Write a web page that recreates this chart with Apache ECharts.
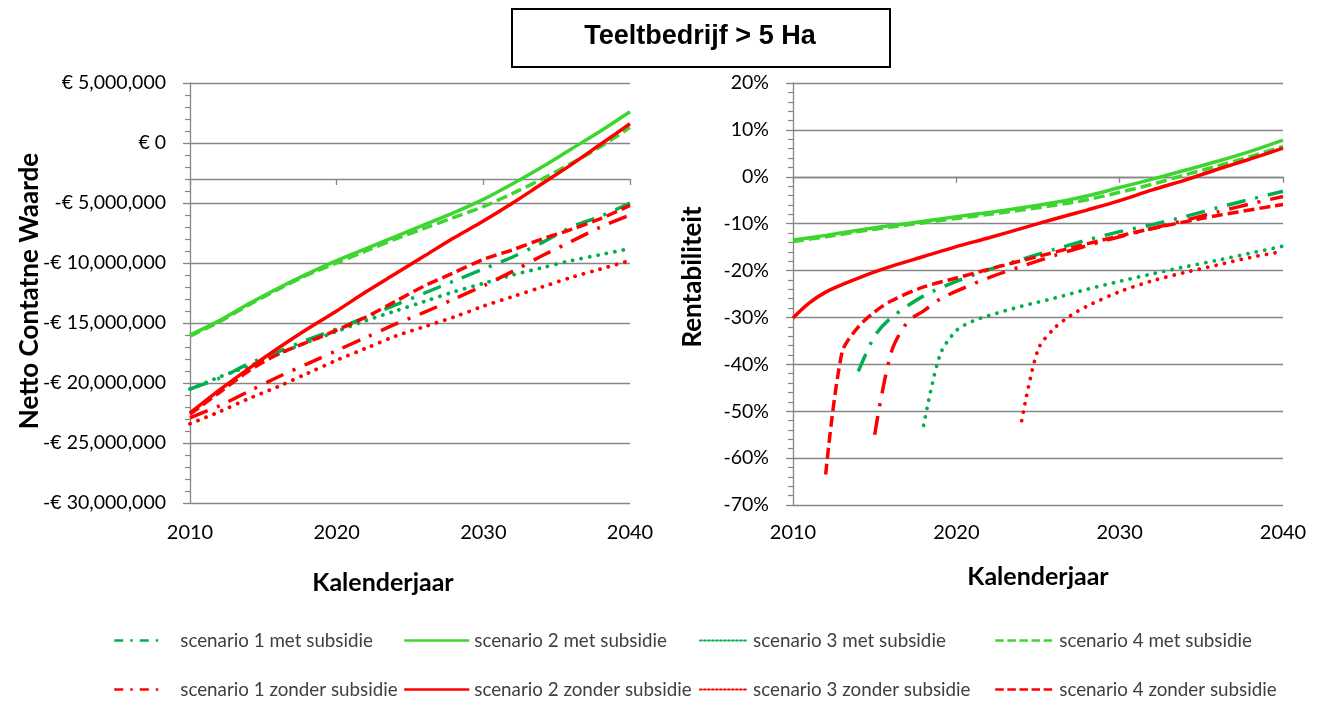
<!DOCTYPE html>
<html>
<head>
<meta charset="utf-8">
<title>Teeltbedrijf &gt; 5 Ha</title>
<script src="https://cdn.jsdelivr.net/npm/echarts@6/dist/echarts.min.js"></script>
<style>
  html, body { margin: 0; padding: 0; background: #ffffff; }
  #chart { width: 1320px; height: 701px; }
</style>
</head>
<body>
<div id="chart"></div>
<script>
// ---- Netto Contante Waarde (miljoen euro), every two years ----
const leftYears = [2010, 2012, 2014, 2016, 2018, 2020, 2022, 2024, 2026, 2028, 2030, 2032, 2034, 2036, 2038, 2040];
const ncwS1Met    = [-20.5, -19.6, -18.4, -17.4, -16.4, -15.5, -14.5, -13.5, -12.5, -11.5, -10.5, -9.5, -8.3, -7.0, -6.1, -5.0];
const ncwS2Met    = [-16.0, -14.8, -13.4, -12.1, -10.9, -9.8, -8.8, -7.8, -6.8, -5.8, -4.7, -3.4, -2.0, -0.5, 1.0, 2.6];
const ncwS3Met    = [-20.5, -19.5, -18.6, -17.6, -16.6, -15.7, -14.8, -14.0, -13.2, -12.4, -11.7, -11.0, -10.4, -9.8, -9.3, -8.8];
const ncwS4Met    = [-16.1, -14.9, -13.5, -12.2, -11.0, -10.0, -9.0, -8.0, -7.1, -6.2, -5.3, -4.2, -3.0, -1.7, -0.3, 1.3];
const ncwS1Zonder = [-22.9, -21.9, -20.7, -19.5, -18.4, -17.3, -16.2, -15.1, -14.1, -13.0, -11.9, -10.7, -9.4, -8.2, -7.0, -6.0];
const ncwS2Zonder = [-22.5, -20.6, -18.8, -17.1, -15.5, -14.0, -12.4, -10.9, -9.4, -7.9, -6.5, -5.0, -3.4, -1.8, -0.1, 1.6];
const ncwS3Zonder = [-23.4, -22.4, -21.3, -20.3, -19.2, -18.1, -17.1, -16.1, -15.3, -14.5, -13.6, -12.8, -12.0, -11.2, -10.5, -9.8];
const ncwS4Zonder = [-22.6, -20.8, -19.0, -17.6, -16.6, -15.6, -14.5, -13.2, -11.9, -10.8, -9.7, -8.9, -8.0, -7.2, -6.3, -5.2];
const MILLION = 1e6;

// ---- Rentabiliteit (%), each scenario from its first year ----
const renS1MetYears    = [2014, 2015, 2016, 2018, 2020, 2022, 2024, 2026, 2028, 2030, 2032, 2034, 2036, 2038, 2040];
const renS1Met         = [-41.5, -34.0, -30.1, -25.4, -22.3, -19.8, -17.6, -15.5, -13.5, -11.7, -10.2, -8.5, -6.6, -4.8, -3.1];
const renS2MetYears    = [2010, 2012, 2014, 2016, 2018, 2020, 2022, 2024, 2026, 2028, 2030, 2032, 2034, 2036, 2038, 2040];
const renS2Met         = [-13.5, -12.5, -11.4, -10.4, -9.5, -8.5, -7.6, -6.6, -5.5, -4.1, -2.3, -0.5, 1.4, 3.3, 5.4, 7.8];
const renS3MetYears    = [2018, 2019, 2020, 2021, 2022, 2024, 2026, 2028, 2030, 2032, 2034, 2036, 2038, 2040];
const renS3Met         = [-53.0, -38.0, -32.8, -30.8, -29.6, -27.6, -25.9, -24.0, -22.3, -20.7, -19.2, -17.8, -16.3, -14.8];
const renS4MetYears    = [2010, 2012, 2014, 2016, 2018, 2020, 2022, 2024, 2026, 2028, 2030, 2032, 2034, 2036, 2038, 2040];
const renS4Met         = [-13.8, -12.8, -11.7, -10.7, -9.8, -8.9, -8.0, -7.1, -6.1, -4.9, -3.3, -1.6, 0.4, 2.3, 4.3, 6.5];
const renS1ZonderYears = [2015, 2016, 2017, 2018, 2019, 2020, 2022, 2024, 2026, 2028, 2030, 2032, 2034, 2036, 2038, 2040];
const renS1Zonder      = [-55.0, -37.6, -31.0, -28.6, -26.1, -24.4, -21.5, -19.1, -16.8, -14.7, -12.8, -11.0, -9.3, -7.5, -5.8, -4.2];
const renS2ZonderYears = [2010, 2011, 2012, 2013, 2014, 2015, 2016, 2018, 2020, 2022, 2024, 2026, 2028, 2030, 2032, 2034, 2036, 2038, 2040];
const renS2Zonder      = [-30.1, -26.9, -24.6, -23.0, -21.6, -20.3, -19.1, -17.0, -14.9, -13.0, -11.0, -9.0, -7.1, -5.1, -2.8, -0.7, 1.6, 3.8, 6.1];
const renS3ZonderYears = [2024, 2025, 2026, 2027, 2028, 2030, 2032, 2034, 2036, 2038, 2040];
const renS3Zonder      = [-52.0, -36.9, -32.3, -29.6, -27.6, -24.5, -22.2, -20.4, -18.8, -17.2, -15.9];
const renS4ZonderYears = [2012, 2013, 2014, 2015, 2016, 2018, 2020, 2022, 2025, 2030, 2035, 2040];
const renS4Zonder      = [-63.5, -37.5, -32.0, -28.8, -26.5, -23.5, -21.6, -19.7, -17.0, -12.6, -8.9, -5.9];

const NAMES = {
  s1m: 'scenario 1 met subsidie',   s2m: 'scenario 2 met subsidie',
  s3m: 'scenario 3 met subsidie',   s4m: 'scenario 4 met subsidie',
  s1z: 'scenario 1 zonder subsidie', s2z: 'scenario 2 zonder subsidie',
  s3z: 'scenario 3 zonder subsidie', s4z: 'scenario 4 zonder subsidie'
};

const LIGHT_GREEN = '#3dd62f';
const DARK_GREEN = '#00b050';
const RED = '#ff0000';
const AXIS_GREY = '#868686';
const TEXT_FONT = 'Lato, "Open Sans", sans-serif';

const STYLES = {
  solid:   { type: 'solid' },
  dashed:  { type: [11, 5] },
  dashdot: { type: [19, 10, 3, 10] },
  dotted:  { type: [0.1, 8.5], cap: 'round' }
};

const zip = (xs, ys, scale) => xs.map((x, i) => [x, ys[i] * (scale || 1)]);

function line(name, data, color, kind, axis) {
  return {
    type: 'line',
    name: name,
    data: data,
    xAxisIndex: axis,
    yAxisIndex: axis,
    symbol: 'none',
    smooth: 0.3,
    animation: false,
    lineStyle: Object.assign({ color: color, width: kind === 'dotted' ? 3.8 : 3.5 }, STYLES[kind]),
    itemStyle: { color: color },
    emphasis: { disabled: true }
  };
}

const leftSeries = [
  line(NAMES.s1m, zip(leftYears, ncwS1Met, MILLION), DARK_GREEN, 'dashdot', 0),
  line(NAMES.s2m, zip(leftYears, ncwS2Met, MILLION), LIGHT_GREEN, 'solid', 0),
  line(NAMES.s3m, zip(leftYears, ncwS3Met, MILLION), DARK_GREEN, 'dotted', 0),
  line(NAMES.s4m, zip(leftYears, ncwS4Met, MILLION), LIGHT_GREEN, 'dashed', 0),
  line(NAMES.s1z, zip(leftYears, ncwS1Zonder, MILLION), RED, 'dashdot', 0),
  line(NAMES.s2z, zip(leftYears, ncwS2Zonder, MILLION), RED, 'solid', 0),
  line(NAMES.s3z, zip(leftYears, ncwS3Zonder, MILLION), RED, 'dotted', 0),
  line(NAMES.s4z, zip(leftYears, ncwS4Zonder, MILLION), RED, 'dashed', 0)
];

const rightSeries = [
  line(NAMES.s1m, zip(renS1MetYears, renS1Met), DARK_GREEN, 'dashdot', 1),
  line(NAMES.s2m, zip(renS2MetYears, renS2Met), LIGHT_GREEN, 'solid', 1),
  line(NAMES.s3m, zip(renS3MetYears, renS3Met), DARK_GREEN, 'dotted', 1),
  line(NAMES.s4m, zip(renS4MetYears, renS4Met), LIGHT_GREEN, 'dashed', 1),
  line(NAMES.s1z, zip(renS1ZonderYears, renS1Zonder), RED, 'dashdot', 1),
  line(NAMES.s2z, zip(renS2ZonderYears, renS2Zonder), RED, 'solid', 1),
  line(NAMES.s3z, zip(renS3ZonderYears, renS3Zonder), RED, 'dotted', 1),
  line(NAMES.s4z, zip(renS4ZonderYears, renS4Zonder), RED, 'dashed', 1)
];

// plot areas
const LEFT_GRID = { left: 190, top: 83, width: 440, height: 420 };
const RIGHT_GRID = { left: 793, top: 83, width: 490, height: 422 };

// NCW axis range; the horizontal axis crosses it at -3,000,000
const NCW_MIN = -30e6, NCW_MAX = 5e6, NCW_CROSS = -3e6;
const crossOffset = -(NCW_CROSS - NCW_MIN) / (NCW_MAX - NCW_MIN) * LEFT_GRID.height;

const euro = v => (v < 0 ? '-' : '') + '\u20AC ' + Math.abs(v).toLocaleString('en-US');

const yearAxisBase = {
  type: 'value', min: 2010, max: 2040, interval: 10,
  splitLine: { show: false },
  axisLabel: { fontFamily: TEXT_FONT, fontSize: 20, color: '#000', formatter: v => String(v) },
  axisLine: { show: true, lineStyle: { color: AXIS_GREY, width: 1.3 } },
  axisTick: { show: true, length: 6, lineStyle: { color: AXIS_GREY, width: 1.3 } }
};

const valueAxisBase = {
  type: 'value',
  axisLine: { show: true, lineStyle: { color: AXIS_GREY, width: 1.3 } },
  axisTick: { show: true, length: 7, lineStyle: { color: AXIS_GREY, width: 1.3 } },
  minorTick: { show: true, splitNumber: 5, length: 5, lineStyle: { color: AXIS_GREY, width: 1.2 } },
  splitLine: { show: true, lineStyle: { color: AXIS_GREY, width: 1.3 } },
  axisLabel: { fontFamily: TEXT_FONT, fontSize: 19.5, color: '#000', margin: 24 }
};

// one legend entry per component so every entry sits at its own spot
function legendItem(left, rowY, name, width, lineStyle, pad) {
  return {
    left: left, top: rowY - 10, orient: 'horizontal', padding: 0,
    itemWidth: width, itemHeight: 14,
    data: [name],
    selectedMode: false,
    lineStyle: lineStyle,
    itemStyle: { color: 'rgba(0,0,0,0)', borderWidth: 0, opacity: 0 },
    textStyle: { fontFamily: TEXT_FONT, fontSize: 18.8, color: '#404040', padding: [0, 0, 0, pad] }
  };
}

const ROW1 = 641, ROW2 = 690;
const DASHDOT_KEY = { width: 2.5, type: [9, 7, 2.5, 7] };
const SOLID_KEY = { width: 2.5, type: 'solid' };
const DOTTED_KEY = { width: 2.2, type: [1.6, 2.4] };
const DASHED_KEY = { width: 2.5, type: [8.5, 3.6] };

const chart = echarts.init(document.getElementById('chart'), null, { renderer: 'canvas' });

chart.setOption({
  backgroundColor: '#ffffff',
  animation: false,
  grid: [
    Object.assign({ containLabel: false }, LEFT_GRID),
    Object.assign({ containLabel: false }, RIGHT_GRID)
  ],
  xAxis: [
    Object.assign({}, yearAxisBase, {
      gridIndex: 0,
      axisLine: { show: false }, axisTick: { show: false },
      axisLabel: Object.assign({}, yearAxisBase.axisLabel, { margin: 20 })
    }),
    Object.assign({}, yearAxisBase, {
      gridIndex: 1,
      axisLabel: Object.assign({}, yearAxisBase.axisLabel, { margin: 18 })
    }),
    // horizontal axis of the NCW panel, crossing at -3,000,000
    Object.assign({}, yearAxisBase, {
      gridIndex: 0, position: 'bottom', offset: crossOffset,
      axisLabel: { show: false },
      axisTick: { show: true, length: 6, lineStyle: { color: AXIS_GREY, width: 1.3 } }
    })
  ],
  yAxis: [
    Object.assign({}, valueAxisBase, {
      gridIndex: 0, min: NCW_MIN, max: NCW_MAX, interval: 5e6,
      axisLabel: Object.assign({}, valueAxisBase.axisLabel, { formatter: euro })
    }),
    Object.assign({}, valueAxisBase, {
      gridIndex: 1, min: -70, max: 20, interval: 10,
      axisLabel: Object.assign({}, valueAxisBase.axisLabel, { formatter: v => v + '%' })
    })
  ],
  legend: [
    legendItem(113, ROW1, NAMES.s1m, 46, DASHDOT_KEY, 15),
    legendItem(113, ROW2, NAMES.s1z, 46, DASHDOT_KEY, 15),
    legendItem(403, ROW1, NAMES.s2m, 65, SOLID_KEY, 0),
    legendItem(403, ROW2, NAMES.s2z, 65, SOLID_KEY, 0),
    legendItem(699, ROW1, NAMES.s3m, 48, DOTTED_KEY, 0),
    legendItem(699, ROW2, NAMES.s3z, 48, DOTTED_KEY, 0),
    legendItem(994, ROW1, NAMES.s4m, 59, DASHED_KEY, 0),
    legendItem(994, ROW2, NAMES.s4z, 59, DASHED_KEY, 0)
  ],
  graphic: [
    {
      type: 'rect', left: 511, top: 8,
      shape: { width: 378, height: 58 },
      style: { fill: '#fff', stroke: '#000', lineWidth: 2 }
    },
    {
      type: 'text', x: 700, y: 37,
      style: {
        text: 'Teeltbedrijf > 5 Ha', fill: '#000',
        font: 'bold 27px "Liberation Sans", Arial, sans-serif',
        align: 'center', verticalAlign: 'middle'
      }
    },
    {
      type: 'text', x: 30, y: 291, rotation: Math.PI / 2,
      style: {
        text: 'Netto Contatne Waarde', fill: '#000',
        font: 'bold 26px ' + TEXT_FONT,
        align: 'center', verticalAlign: 'middle'
      }
    },
    {
      type: 'text', x: 693, y: 277, rotation: Math.PI / 2,
      style: {
        text: 'Rentabiliteit', fill: '#000',
        font: 'bold 26px ' + TEXT_FONT,
        align: 'center', verticalAlign: 'middle'
      }
    },
    {
      type: 'text', x: 383, y: 583,
      style: {
        text: 'Kalenderjaar', fill: '#000',
        font: 'bold 25px ' + TEXT_FONT,
        align: 'center', verticalAlign: 'middle'
      }
    },
    {
      type: 'text', x: 1038, y: 577,
      style: {
        text: 'Kalenderjaar', fill: '#000',
        font: 'bold 25px ' + TEXT_FONT,
        align: 'center', verticalAlign: 'middle'
      }
    }
  ],
  series: leftSeries.concat(rightSeries)
});
</script>
</body>
</html>
